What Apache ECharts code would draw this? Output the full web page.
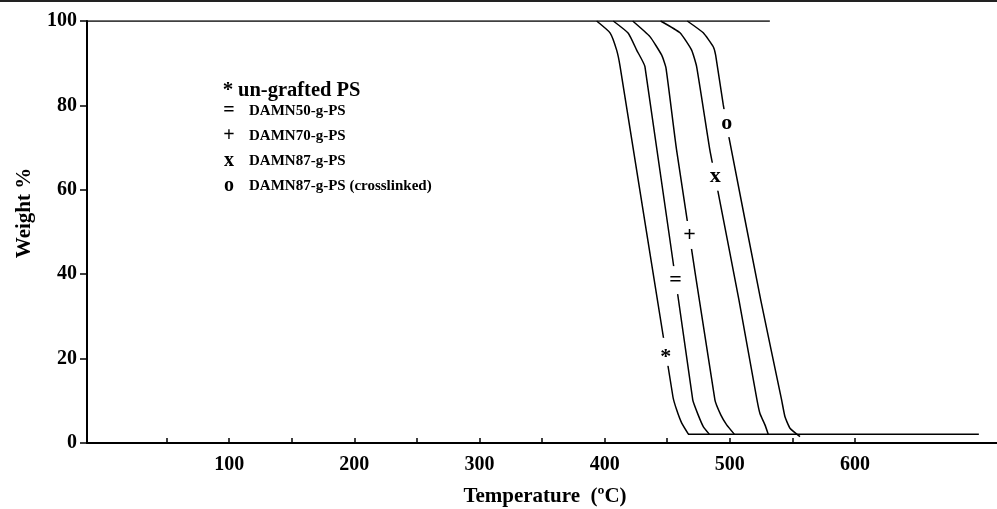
<!DOCTYPE html>
<html>
<head>
<meta charset="utf-8">
<script src="https://cdn.jsdelivr.net/npm/echarts@6/dist/echarts.min.js"></script>
<style>
    html, body { margin: 0; padding: 0; background: #fff; }
    #chart { width: 997px; height: 509px; }
</style>
</head>
<body>
<div id="chart"></div>
<script>
// temperature (oC) / weight % pairs
var names = ['un-grafted PS', 'DAMN50-g-PS', 'DAMN70-g-PS', 'DAMN87-g-PS', 'DAMN87-g-PS (crosslinked)'];
var markers = ['*', '=', '+', 'x', 'o'];

var ungrafted = [[393.6, 100], [404.3, 97.2], [409.6, 93.1], [412.3, 89.3], [454.6, 10.9], [457.6, 7.8], [461.6, 4.7], [466.9, 2.1]];
var damn50 = [[406.9, 100], [418.9, 97.1], [425.6, 93.1], [432.2, 89.2], [470.4, 10.2], [474.8, 6.6], [478.8, 3.9], [483.6, 2.1]];
var damn70 = [[422.4, 100], [436.2, 96.3], [445.6, 91.9], [449.0, 88.9], [457.5, 69.4], [488.1, 10.2], [492.9, 6.6], [497.5, 4.3], [503.6, 2.1]];
var damn87 = [[444.7, 100], [460.2, 97.2], [469.5, 93.1], [473.5, 89.2], [484.1, 69.4], [490.3, 60.0], [507.3, 33.9], [521.5, 10.6], [524.1, 7.0], [528.1, 4.3], [530.7, 2.1]];
var damn87x = [[466.0, 100], [478.8, 97.2], [486.8, 93.9], [488.7, 91.9], [494.8, 80.1], [499.3, 72.5], [524.7, 33.9], [541.4, 10.2], [544.1, 6.2], [548.1, 3.5], [556.1, 1.5]];

var topLine = [[-13.6, 100], [532, 100]];
var bottomLine = [[466.6, 2.1], [699, 2.1]];

// where each curve carries its marker
var markerAt = [[448.8, 21.6], [456.6, 38.6], [467.9, 49.3], [488.3, 63.1], [497.6, 75.8]];

var xMin = -13.6, xMax = 713.5;
var xTicks = [50, 100, 150, 200, 250, 300, 350, 400, 450, 500, 550, 600];
var xLabels = [100, 200, 300, 400, 500, 600];

var FONT = 'Liberation Serif';

function curveSeries(name, data, i) {
    return {
        name: name,
        type: 'line',
        data: data,
        showSymbol: false,
        smooth: 0.15,
        silent: true,
        animation: false,
        lineStyle: { color: '#000', width: 1.5 },
        itemStyle: { color: '#000' },
        z: 2,
        markPoint: {
            silent: true,
            animation: false,
            symbol: 'rect',
            symbolSize: [14, 28],
            itemStyle: { color: '#fff' },
            label: {
                show: true,
                position: 'inside',
                formatter: markers[i],
                color: '#000',
                fontFamily: FONT,
                fontWeight: 'bold',
                fontSize: 22,
                offset: i == 0 ? [0, 5] : [0, 0]
            },
            data: [{ coord: markerAt[i] }]
        }
    };
}

function plainSeries(data) {
    return {
        type: 'line',
        data: data,
        showSymbol: false,
        silent: true,
        animation: false,
        lineStyle: { color: '#000', width: 1.5 },
        z: 1
    };
}

function legendText(name) {
    var i = names.indexOf(name);
    if (i == 0) {
        return '{g1|' + markers[i] + '}{big|' + name + '}';
    }
    return '{g|' + markers[i] + '}{t|' + name + '}';
}

var legendRich = {
    g1: { width: 16, align: 'center', fontSize: 21, fontFamily: FONT, fontWeight: 'bold' },
    big: { fontSize: 20.5, fontFamily: FONT, fontWeight: 'bold', padding: [0, 0, 0, 2] },
    g: { width: 18, align: 'center', fontSize: 20, fontFamily: FONT, fontWeight: 'bold' },
    t: { fontSize: 15, fontFamily: FONT, fontWeight: 'bold', padding: [0, 0, 0, 11] }
};

var chart = echarts.init(document.getElementById('chart'));

var series = [plainSeries(topLine), plainSeries(bottomLine)];
var curves = [ungrafted, damn50, damn70, damn87, damn87x];
for (var i = 0; i < curves.length; i++) {
    series.push(curveSeries(names[i], curves[i], i));
}

function makeLegend(data, top, gap) {
    return {
        data: data,
        orient: 'vertical',
        left: 215,
        top: top,
        padding: 0,
        itemGap: gap,
        icon: 'none',
        itemWidth: 0,
        itemHeight: 1,
        selectedMode: false,
        formatter: legendText,
        textStyle: { color: '#000', fontFamily: FONT, fontWeight: 'bold', rich: legendRich }
    };
}

var option = {
    backgroundColor: '#fff',
    animation: false,
    grid: { left: 87, right: 0, top: 21, bottom: 66, outerBoundsMode: 'none', containLabel: false },
    legend: [
        makeLegend([names[0]], 80, 0),
        makeLegend(names.slice(1), 101, 5)
    ],
    xAxis: {
        type: 'value',
        min: xMin,
        max: xMax,
        name: 'Temperature  (\u00baC)',
        nameLocation: 'middle',
        nameGap: 43,
        nameTextStyle: { color: '#000', fontFamily: FONT, fontWeight: 'bold', fontSize: 21, padding: [0, 0, 0, 6] },
        axisLine: { show: true, onZero: false, lineStyle: { color: '#000', width: 2 } },
        axisTick: { show: true, inside: true, length: 5, lineStyle: { color: '#000', width: 1.5 }, customValues: xTicks },
        axisLabel: { color: '#000', fontFamily: FONT, fontWeight: 'bold', fontSize: 20, margin: 12, customValues: xLabels },
        splitLine: { show: false }
    },
    yAxis: {
        type: 'value',
        min: 0,
        max: 100,
        interval: 20,
        name: 'Weight %',
        nameLocation: 'middle',
        nameGap: 52,
        nameTextStyle: { color: '#000', fontFamily: FONT, fontWeight: 'bold', fontSize: 21, padding: [0, 0, 0, 38] },
        axisLine: { show: true, onZero: false, lineStyle: { color: '#000', width: 2 } },
        axisTick: { show: true, length: 7, lineStyle: { color: '#000', width: 1.5 } },
        axisLabel: { color: '#000', fontFamily: FONT, fontWeight: 'bold', fontSize: 20, margin: 10 },
        splitLine: { show: false }
    },
    graphic: [{
        type: 'rect',
        left: 0,
        top: 0,
        shape: { width: 997, height: 2 },
        style: { fill: '#222' },
        silent: true
    }],
    series: series
};

chart.setOption(option);
</script>
</body>
</html>
